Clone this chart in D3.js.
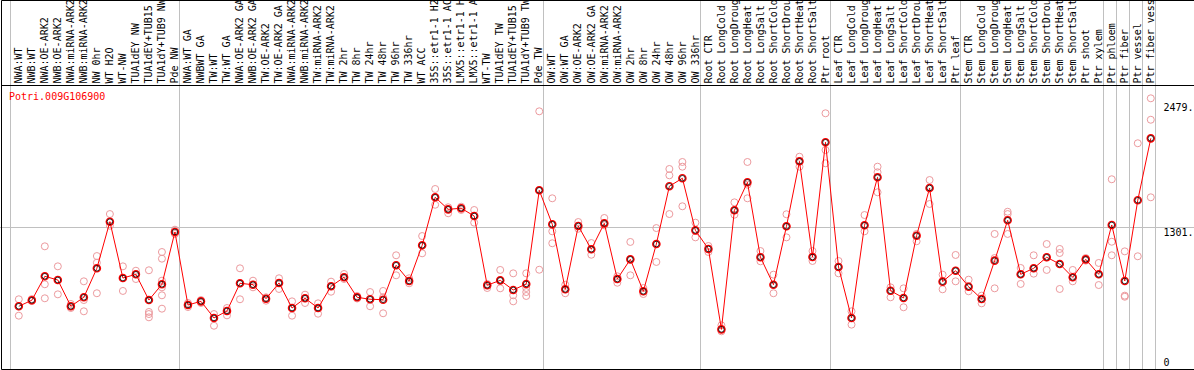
<!DOCTYPE html>
<html>
<head>
<meta charset="utf-8">
<script src="https://cdn.jsdelivr.net/npm/d3@7"></script>
<style>
  body { margin: 0; background: #fff; }
  svg { display: block; font-family: 'DejaVu Sans Mono', monospace; font-size: 10px; }
</style>
</head>
<body>
<svg class="chart"></svg>
<script>
const geneId = 'Potri.009G106900';

const samples = [
  'NWA:WT', 'NWB:WT', 'NWA:OE-ARK2', 'NWB:OE-ARK2', 'NWA:miRNA-ARK2', 'NWB:miRNA-ARK2', 'NW 0hr',
  'WT H2O', 'WT-NW', 'TUA1dEY NW', 'TUA1dEY+TUB15 NW', 'TUA1dY+TUB9 NW', 'Pde NW',
  'NWA:WT GA', 'NWBWT GA', 'TW:WT', 'TW:WT GA', 'NWA:OE-ARK2 GA', 'NWB:OE-ARK2 GA', 'TW:OE-ARK2',
  'TW:OE-ARK2 GA', 'NWA:miRNA-ARK2 GA', 'NWB:miRNA-ARK2 GA', 'TW:miRNA-ARK2', 'TW:miRNA-ARK2 GA',
  'TW 2hr', 'TW 8hr', 'TW 24hr', 'TW 48hr', 'TW 96hr', 'TW 336hr', 'WT ACC',
  '35S::etr1-1 H2O', '35S::etr1-1 ACC', 'LMX5::etr1-1 H2O', 'LMX5::etr1-1 ACC', 'WT-TW',
  'TUA1dEY TW', 'TUA1dEY+TUB15 TW', 'TUA1dY+TUB9 TW', 'Pde TW',
  'OW:WT', 'OW:WT GA', 'OW:OE-ARK2', 'OW:OE-ARK2 GA', 'OW:miRNA-ARK2', 'OW:miRNA-ARK2 GA',
  'OW 2hr', 'OW 8hr', 'OW 24hr', 'OW 48hr', 'OW 96hr', 'OW 336hr',
  'Root CTR', 'Root LongCold', 'Root LongDrought', 'Root LongHeat', 'Root LongSalt',
  'Root ShortCold', 'Root ShortDrought', 'Root ShortHeat', 'Root ShortSalt', 'Ptr root',
  'Leaf CTR', 'Leaf LongCold', 'Leaf LongDrought', 'Leaf LongHeat', 'Leaf LongSalt',
  'Leaf ShortCold', 'Leaf ShortDrought', 'Leaf ShortHeat', 'Leaf ShortSalt', 'Ptr leaf',
  'Stem CTR', 'Stem LongCold', 'Stem LongDrought', 'Stem LongHeat', 'Stem LongSalt',
  'Stem ShortCold', 'Stem ShortDrought', 'Stem ShortHeat', 'Stem ShortSalt', 'Ptr shoot',
  'Ptr xylem', 'Ptr phloem', 'Ptr fiber', 'Ptr vessel', 'Ptr fiber vessel'
];

// index of the first sample of each experiment block (last one closes the plot)
const groupStarts = [0, 13, 41, 53, 63, 73, 84, 85, 86, 87, 88];

const means = [
  578, 633, 852, 818, 578, 660, 925, 1351, 836, 870,
  635, 779, 1257, 590, 623, 471, 535, 788, 775, 647,
  791, 562, 651, 562, 761, 843, 660, 642, 638, 953,
  809, 1135, 1574, 1464, 1474, 1403, 770, 815, 727, 782,
  1638, 1327, 733, 1312, 1099, 1336, 827, 1007, 715, 1147,
  1675, 1748, 1272, 1102, 367, 1455, 1711, 1026, 775, 1309,
  1903, 1028, 2077, 937, 471, 1318, 1757, 720, 654, 1223,
  1659, 803, 903, 757, 644, 995, 1364, 870, 925, 1026,
  964, 843, 1007, 870, 1321, 809, 1547, 2113
];

const replicates = [
  [642, 578, 492], [644, 626, 630], [1126, 779, 651], [943, 818, 687], [599, 578, 562],
  [806, 635, 532], [1037, 976, 697], [1421, 1314, 1351], [943, 718, 836], [903, 827, 870],
  [907, 526, 507, 477], [1074, 1013, 812, 751, 678, 556], [1278, 1257, 1239], [608, 590, 571], [635, 623, 608],
  [507, 471, 400], [562, 535, 495], [925, 788, 642], [812, 775, 751], [660, 647, 629],
  [834, 791, 736], [623, 562, 492], [684, 651, 608], [605, 562, 510], [803, 761, 711],
  [873, 843, 827], [672, 660, 649], [708, 642, 578], [718, 660, 514], [1044, 953, 861],
  [834, 809, 788], [1220, 1135, 1062], [1650, 1574, 1506], [1483, 1464, 1428], [1488, 1474, 1458],
  [1458, 1403, 1342], [782, 770, 745], [910, 815, 742], [879, 678, 623], [879, 745, 708, 672],
  [2360, 1638, 912], [1565, 1263, 1154], [775, 733, 697], [1348, 1312, 1287], [1156, 1099, 1049],
  [1385, 1336, 1318], [852, 827, 793], [1166, 1007, 861], [745, 715, 690], [1293, 1147, 983],
  [1833, 1775, 1421], [1897, 1854, 1492], [1342, 1272, 1208], [1129, 1102, 1074], [404, 367, 349],
  [1528, 1455, 1415], [1897, 1689, 1565], [1083, 1026, 989], [867, 775, 697], [1419, 1309, 1208],
  [1945, 1903, 1854], [1083, 1028, 992], [2342, 2006, 1885], [992, 937, 879], [532, 471, 410],
  [1412, 1318, 1263], [1854, 1803, 1620], [751, 720, 660], [742, 654, 569], [1239, 1223, 1172],
  [1732, 1659, 1513], [867, 803, 733], [1047, 903, 806], [821, 757, 715], [675, 644, 605],
  [1239, 1019, 742], [1442, 1421, 1239], [928, 870, 782], [1044, 925, 876], [1147, 1026, 910],
  [1102, 1065, 736], [910, 843, 806], [1019, 1007, 995], [974, 870, 772], [1739, 1168, 1044],
  [1080, 675, 665], [2068, 1035], [2479, 2283, 1574]
];

const yMax = 2479;
const yTicks = [0, 1301, 2479];
const yTickLabels = ['0', '1301.', '2479.'];

const startApp = () => {
  const size = { width: 1194, height: 370 };
  const labelBottom = 85.5;
  const plotBottom = 369.5;
  const pointOffset = 8.3;

  const svg = d3.select('.chart')
    .attr('width', size.width)
    .attr('height', size.height);

  const xScale = d3.scaleBand()
    .domain(d3.range(samples.length))
    .range([10.5, 1155.5]);
  const yScale = d3.scaleLinear()
    .domain([0, yMax])
    .range([plotBottom, 98.3]);
  const px = i => xScale(i) + pointOffset;
  const crisp = v => Math.round(v - 0.5) + 0.5;

  // block separators
  svg.append('g')
    .selectAll('line')
    .data(groupStarts)
    .enter()
    .append('line')
    .attr('x1', i => crisp(xScale.step() * i + xScale.range()[0]))
    .attr('x2', i => crisp(xScale.step() * i + xScale.range()[0]))
    .attr('y1', 0)
    .attr('y2', plotBottom)
    .attr('stroke', '#c0c0c0');

  // mid reference line
  svg.append('line')
    .attr('x1', 0)
    .attr('x2', size.width)
    .attr('y1', crisp(yScale(yTicks[1])))
    .attr('y2', crisp(yScale(yTicks[1])))
    .attr('stroke', '#c0c0c0');

  // sample labels
  const xAxis = d3.axisBottom(xScale)
    .tickSize(0)
    .tickFormat(i => samples[i]);

  const axisG = svg.append('g')
    .attr('transform', 'translate(0, 83.5)')
    .call(xAxis);
  axisG.select('.domain').remove();
  axisG.selectAll('text')
    .attr('transform', 'rotate(-90)')
    .attr('text-anchor', 'start')
    .attr('x', 0)
    .attr('y', 5)
    .attr('dy', 0)
    .attr('fill', '#000')
    .style('font-family', "'DejaVu Sans Mono', monospace")
    .style('font-size', '10px');

  // frame
  svg.append('path')
    .attr('d', `M1.5,${plotBottom}V0.5H${size.width} M1.5,${labelBottom}H${size.width} M1.5,${plotBottom}H${size.width}`)
    .attr('fill', 'none')
    .attr('stroke', '#000');

  svg.append('text')
    .attr('x', 9)
    .attr('y', 100)
    .attr('fill', '#f00')
    .text(geneId);

  // value labels on the right
  svg.append('g')
    .selectAll('text')
    .data(yTicks)
    .enter()
    .append('text')
    .attr('x', 1163.5)
    .attr('y', v => yScale(v) + (v === 0 ? -4 : v === yMax ? 12.5 : 8.5))
    .attr('fill', '#000')
    .text((v, i) => yTickLabels[i]);

  // replicate points
  const repPoints = replicates.flatMap((reps, i) => reps.map(v => ({ i, v })));
  svg.append('g')
    .selectAll('circle')
    .data(repPoints)
    .enter()
    .append('circle')
    .attr('cx', d => px(d.i))
    .attr('cy', d => yScale(d.v))
    .attr('r', 3.5)
    .attr('fill', 'none')
    .attr('stroke', '#ec9a9e')
    .attr('stroke-width', 1);

  const line = d3.line()
    .x((v, i) => px(i))
    .y(v => yScale(v));

  svg.append('path')
    .datum(means)
    .attr('d', line)
    .attr('fill', 'none')
    .attr('stroke', '#f00')
    .attr('stroke-width', 1);

  const meanG = svg.append('g')
    .selectAll('g')
    .data(means)
    .enter()
    .append('g')
    .attr('transform', (v, i) => `translate(${px(i)}, ${yScale(v)})`);
  meanG.append('circle')
    .attr('r', 3.6)
    .attr('fill', 'none')
    .attr('stroke', '#f00')
    .attr('stroke-width', 1.4);
  meanG.append('circle')
    .attr('r', 2.8)
    .attr('fill', 'none')
    .attr('stroke', '#000')
    .attr('stroke-width', 0.8);
};

window.onload = startApp;
</script>
</body>
</html>
